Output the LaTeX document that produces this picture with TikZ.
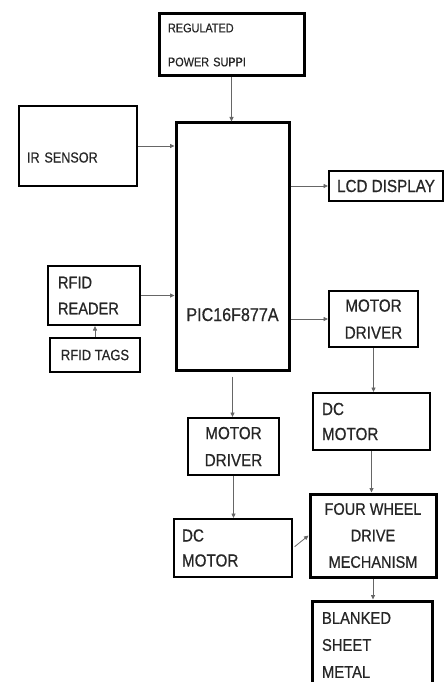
\documentclass[tikz,border=0pt]{standalone}
\usepackage{fontspec}
\newfontfamily\blkfont[FakeStretch=0.87, FakeBold=0.6]{Liberation Sans}
\usepackage{tikz}
\usetikzlibrary{arrows.meta}

\begin{document}
\begin{tikzpicture}[
x=1pt, y=-1pt,
blk/.style={draw, line width=2pt, inner sep=0pt, text=black!85, font=\blkfont\fontsize{17.5}{27}\selectfont},
thickblk/.style={blk, line width=3pt},
arrow/.style={-{Triangle[length=4.5pt,width=4pt]}, draw=black!60, line width=0.8pt}
]
\useasboundingbox (0,0) rectangle (445,682);
\clip (0,0) rectangle (445,682);

\node[thickblk, minimum width=145pt, minimum height=62pt, inner xsep=9pt, text width=127pt, align=left,
  font=\blkfont\fontsize{12.5}{34}\selectfont] (psu) at (231.5,45) {REGULATED\\POWER SUPPI};
\node[blk, minimum width=118pt, minimum height=80pt, inner xsep=8pt, text width=102pt, align=left,
  text height=33pt, text depth=0pt, font=\blkfont\fontsize{14.5}{20}\selectfont] (ir) at (78,146) {IR SENSOR};
\node[thickblk, minimum width=113pt, minimum height=247pt, text height=149pt, text depth=0pt,
  font=\blkfont\fontsize{18.5}{24}\selectfont] (pic) at (232.5,246.5) {PIC16F877A};
\node[blk, minimum width=114pt, minimum height=30pt] (lcd) at (386,186) {LCD DISPLAY};
\node[blk, minimum width=92pt, minimum height=59pt, inner xsep=10pt, text width=72pt, align=left,
  font=\blkfont\fontsize{16.8}{26}\selectfont] (rfidr) at (94,295.5) {RFID\\READER};
\node[blk, minimum width=90pt, minimum height=34pt, font=\blkfont\fontsize{14.9}{20}\selectfont] (tags) at (95,355) {RFID TAGS};
\node[blk, minimum width=89pt, minimum height=56pt, align=center] (mdr) at (373.5,319) {MOTOR\\DRIVER};
\node[blk, minimum width=117pt, minimum height=57pt, inner xsep=9pt, text width=99pt, align=left,
  font=\blkfont\fontsize{17.5}{25}\selectfont] (dcr) at (371.5,421.5) {DC\\MOTOR};
\node[thickblk, minimum width=126pt, minimum height=83pt, align=center,
  font=\blkfont\fontsize{16.7}{26.5}\selectfont] (fwd) at (373,535.5) {FOUR WHEEL\\DRIVE\\MECHANISM};
\node[thickblk, minimum width=120pt, minimum height=88pt, inner xsep=10pt, text width=100pt, align=left,
  font=\blkfont\fontsize{17}{27}\selectfont] (bsm) at (372,645) {BLANKED\\SHEET\\METAL};
\node[blk, minimum width=91pt, minimum height=57pt, align=center] (mdl) at (233.5,446.5) {MOTOR\\DRIVER};
\node[blk, minimum width=118pt, minimum height=58pt, inner xsep=8pt, text width=102pt, align=left,
  font=\blkfont\fontsize{17.5}{25}\selectfont] (dcl) at (233,548) {DC\\MOTOR};

\draw[arrow] (psu.south) -- (psu.south |- pic.north);
\draw[arrow] (ir.east) -- (ir.east -| pic.west);
\draw[arrow] (lcd.west -| pic.east) -- (lcd.west);
\draw[arrow] (rfidr.east) -- (rfidr.east -| pic.west);
\draw[arrow] (tags.north) -- (tags.north |- rfidr.south);
\draw[arrow] (mdr.west -| pic.east) -- (mdr.west);
\draw[arrow, shorten <=5pt] (pic.south) -- (pic.south |- mdl.north);
\draw[arrow] (mdr.south) -- (mdr.south |- dcr.north);
\draw[arrow] (dcr.south) -- (dcr.south |- fwd.north);
\draw[arrow] (fwd.south) -- (fwd.south |- bsm.north);
\draw[arrow] (mdl.south) -- (mdl.south |- dcl.north);
\draw[arrow, shorten <=2pt] (dcl.east) -- (fwd.west);

\end{tikzpicture}
\end{document}
